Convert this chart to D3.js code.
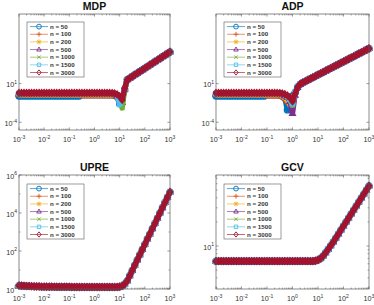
<!DOCTYPE html>
<html><head><meta charset="utf-8">
<script src="https://cdn.jsdelivr.net/npm/d3@7/dist/d3.min.js"></script>
<style>body{margin:0;background:#fff}svg{display:block}</style>
</head><body><svg id="c" width="374" height="305"></svg>
<script>
// ---- data (values are log10 of the plotted quantity) ----
const lambdaExp = [-3.0,-2.9,-2.8,-2.7,-2.6,-2.5,-2.4,-2.3,-2.2,-2.1,-2.0,-1.9,-1.8,-1.7,-1.6,-1.5,-1.4,-1.3,-1.2,-1.1,-1.0,-0.9,-0.8,-0.7,-0.6,-0.5,-0.4,-0.3,-0.2,-0.1,0.0,0.1,0.2,0.3,0.4,0.5,0.6,0.7,0.8,0.9,1.0,1.1,1.2,1.3,1.4,1.5,1.6,1.7,1.8,1.9,2.0,2.1,2.2,2.3,2.4,2.5,2.6,2.7,2.8,2.9,3.0];
const seriesNames = ["n = 50","n = 100","n = 200","n = 500","n = 1000","n = 1500","n = 3000"];
const seriesColors = ["#0072BD","#D95319","#EDB120","#7E2F8E","#77AC30","#4DBEEE","#A2142F"];
const seriesMarkers = ["circle","plus","star","triangle","cross","square","diamond"];
const panelTitles = ["MDP","ADP","UPRE","GCV"];
const xTickValues = [1e-3,1e-2,1e-1,1e0,1e1,1e2,1e3];
const mdpYTicks = [1e-4,1e1];
const adpYTicks = [1e-4,1e1];
const upreYTicks = [1e0,1e2,1e4,1e6];
const gcvYTicks = [1e1];

// MDP: t = -3.0 .. 1.2
const mdp_n50 = [-0.6,-0.6,-0.6,-0.6,-0.6,-0.6,-0.6,-0.6,-0.6,-0.6,
 -0.6,-0.6,-0.6,-0.6,-0.6,-0.6,-0.6,-0.6,-0.6,-0.6,
 -0.6,-0.6,-0.6,-0.6,-0.6,-0.45,-0.45,-0.45,-0.45,-0.45,
 -0.45,-0.45,-0.45,-0.45,-0.45,-0.45,-0.45,-0.45,-0.5,-0.7,
 -1.6,-1.0,0.2];
const mdp_n100 = [-0.45,-0.45,-0.45,-0.45,-0.45,-0.45,-0.45,-0.45,-0.45,-0.45,
 -0.45,-0.45,-0.45,-0.45,-0.45,-0.45,-0.45,-0.45,-0.45,-0.45,
 -0.45,-0.45,-0.45,-0.45,-0.45,-0.55,-0.55,-0.55,-0.55,-0.55,
 -0.55,-0.55,-0.55,-0.55,-0.55,-0.55,-0.55,-0.55,-0.58,-0.75,
 -1.2,-1.25,0.2];
const mdp_n200 = [-0.4,-0.4,-0.4,-0.4,-0.4,-0.4,-0.4,-0.4,-0.4,-0.4,
 -0.4,-0.4,-0.4,-0.4,-0.4,-0.4,-0.4,-0.4,-0.4,-0.4,
 -0.4,-0.4,-0.4,-0.4,-0.4,-0.4,-0.4,-0.4,-0.4,-0.4,
 -0.4,-0.4,-0.4,-0.4,-0.4,-0.4,-0.4,-0.4,-0.45,-0.6,
 -1.1,-1.35,0.25];
const mdp_n500 = [-0.35,-0.35,-0.35,-0.35,-0.35,-0.35,-0.35,-0.35,-0.35,-0.35,
 -0.35,-0.35,-0.35,-0.35,-0.35,-0.35,-0.35,-0.35,-0.35,-0.35,
 -0.35,-0.35,-0.35,-0.35,-0.35,-0.35,-0.35,-0.35,-0.35,-0.35,
 -0.35,-0.35,-0.35,-0.35,-0.35,-0.35,-0.35,-0.35,-0.4,-0.55,
 -1.0,-1.45,0.3];
const mdp_n1000 = [-0.3,-0.3,-0.3,-0.3,-0.3,-0.3,-0.3,-0.3,-0.3,-0.3,
 -0.3,-0.3,-0.3,-0.3,-0.3,-0.3,-0.3,-0.3,-0.3,-0.3,
 -0.3,-0.3,-0.3,-0.3,-0.3,-0.3,-0.3,-0.3,-0.3,-0.3,
 -0.3,-0.3,-0.3,-0.3,-0.3,-0.3,-0.3,-0.3,-0.35,-0.5,
 -0.9,-2.15,0.3];
const mdp_n1500 = [-0.28,-0.28,-0.28,-0.28,-0.28,-0.28,-0.28,-0.28,-0.28,-0.28,
 -0.28,-0.28,-0.28,-0.28,-0.28,-0.28,-0.28,-0.28,-0.28,-0.28,
 -0.28,-0.28,-0.28,-0.28,-0.28,-0.28,-0.28,-0.28,-0.28,-0.28,
 -0.28,-0.28,-0.28,-0.28,-0.28,-0.28,-0.28,-0.28,-0.33,-0.5,
 -1.65,-0.9,0.35];
const mdp_n3000 = [-0.2,-0.2,-0.2,-0.2,-0.2,-0.2,-0.2,-0.2,-0.2,-0.2,
 -0.2,-0.2,-0.2,-0.2,-0.2,-0.2,-0.2,-0.2,-0.2,-0.2,
 -0.2,-0.2,-0.2,-0.2,-0.2,-0.2,-0.2,-0.2,-0.2,-0.2,
 -0.2,-0.2,-0.2,-0.2,-0.2,-0.2,-0.2,-0.22,-0.28,-0.4,
 -0.65,-1.1,0.4];
// MDP: t = 1.3 .. 3.0 (all n overlap)
const mdpRise = [1.5,1.71,1.92,2.14,2.35,2.56,2.77,2.98,3.2,3.41,3.62,3.83,4.04,4.26,4.47,4.68,4.89,5.1];

// ADP: t = -3.0 .. 0.3
const adp_n50 = [-0.6,-0.6,-0.6,-0.6,-0.6,-0.6,-0.6,-0.6,-0.6,-0.6,
 -0.6,-0.6,-0.6,-0.6,-0.6,-0.6,-0.6,-0.6,-0.6,-0.6,
 -0.45,-0.45,-0.45,-0.45,-0.45,-0.5,-0.65,-0.9,-2.4,-1.2,
 -0.6,-0.2,0.5,0.9];
const adp_n100 = [-0.45,-0.45,-0.45,-0.45,-0.45,-0.45,-0.45,-0.45,-0.45,-0.45,
 -0.45,-0.45,-0.45,-0.45,-0.45,-0.45,-0.45,-0.45,-0.45,-0.45,
 -0.58,-0.58,-0.58,-0.58,-0.58,-0.58,-0.75,-1.0,-1.4,-1.6,
 -0.9,-0.25,0.5,0.9];
const adp_n200 = [-0.4,-0.4,-0.4,-0.4,-0.4,-0.4,-0.4,-0.4,-0.4,-0.4,
 -0.4,-0.4,-0.4,-0.4,-0.4,-0.4,-0.4,-0.4,-0.4,-0.4,
 -0.4,-0.4,-0.4,-0.4,-0.4,-0.45,-0.6,-0.8,-1.1,-1.7,
 -1.0,-0.3,0.5,0.9];
const adp_n500 = [-0.35,-0.35,-0.35,-0.35,-0.35,-0.35,-0.35,-0.35,-0.35,-0.35,
 -0.35,-0.35,-0.35,-0.35,-0.35,-0.35,-0.35,-0.35,-0.35,-0.35,
 -0.35,-0.35,-0.35,-0.35,-0.35,-0.35,-0.45,-0.6,-0.8,-1.3,
 -2.85,-0.5,0.5,0.9];
const adp_n1000 = [-0.3,-0.3,-0.3,-0.3,-0.3,-0.3,-0.3,-0.3,-0.3,-0.3,
 -0.3,-0.3,-0.3,-0.3,-0.3,-0.3,-0.3,-0.3,-0.3,-0.3,
 -0.3,-0.3,-0.3,-0.3,-0.3,-0.3,-0.38,-0.5,-0.7,-1.1,
 -1.8,-0.2,0.6,0.95];
const adp_n1500 = [-0.28,-0.28,-0.28,-0.28,-0.28,-0.28,-0.28,-0.28,-0.28,-0.28,
 -0.28,-0.28,-0.28,-0.28,-0.28,-0.28,-0.28,-0.28,-0.28,-0.28,
 -0.28,-0.28,-0.28,-0.28,-0.28,-0.28,-0.33,-0.45,-0.65,-1.0,
 -1.6,-0.1,0.65,0.97];
const adp_n3000 = [-0.2,-0.2,-0.2,-0.2,-0.2,-0.2,-0.2,-0.2,-0.2,-0.2,
 -0.2,-0.2,-0.2,-0.2,-0.2,-0.2,-0.2,-0.2,-0.2,-0.2,
 -0.2,-0.2,-0.2,-0.2,-0.2,-0.22,-0.28,-0.38,-0.55,-0.8,
 -1.3,-0.3,0.55,0.95];
// ADP: t = 0.4 .. 3.0 (all n overlap)
const adpRise = [1.12,1.29,1.46,1.63,1.8,1.97,2.14,2.31,2.48,2.65,2.82,2.99,3.16,3.33,3.5,3.67,3.84,4.01,4.18,4.35,4.52,4.69,4.86,5.03,5.2,5.37,5.54];

// UPRE and GCV: all n overlap, t = -3.0 .. 3.0
const upreAll = [0.18,0.17,0.16,0.15,0.15,0.14,0.13,0.13,0.13,0.12,
 0.12,0.12,0.12,0.12,0.11,0.11,0.11,0.11,0.11,0.11,
 0.11,0.1,0.1,0.1,0.1,0.1,0.1,0.1,0.1,0.1,
 0.1,0.1,0.1,0.1,0.1,0.1,0.1,0.1,0.1,0.1,
 0.12,0.16,0.26,0.43,0.7,0.98,1.25,1.53,1.8,2.08,
 2.35,2.63,2.9,3.18,3.45,3.73,4.0,4.28,4.55,4.83,
 5.1];
const gcvAll = [0.81,0.81,0.81,0.81,0.81,0.81,0.81,0.81,0.81,0.81,
 0.81,0.81,0.81,0.81,0.81,0.81,0.81,0.81,0.81,0.81,
 0.81,0.81,0.81,0.81,0.81,0.81,0.81,0.81,0.81,0.81,
 0.81,0.81,0.81,0.81,0.81,0.81,0.81,0.81,0.81,0.815,
 0.825,0.845,0.875,0.915,0.96,1.005,1.05,1.1,1.15,1.2,
 1.25,1.3,1.35,1.4,1.45,1.5,1.55,1.6,1.65,1.7,
 1.75];

// ---- build series tables ----
const mdpSeries = [mdp_n50,mdp_n100,mdp_n200,mdp_n500,mdp_n1000,mdp_n1500,mdp_n3000].map(h => h.concat(mdpRise));
const adpSeries = [adp_n50,adp_n100,adp_n200,adp_n500,adp_n1000,adp_n1500,adp_n3000].map(h => h.concat(adpRise));
const upreSeries = seriesNames.map(() => upreAll);
const gcvSeries = seriesNames.map(() => gcvAll);

const panels = [
  {title: panelTitles[0], x0:19, x1:170, y0:14, y1:130, yDom:[1e-5,1e10], yTicks: mdpYTicks, yMinor: [], data: mdpSeries, lg:[27,22]},
  {title: panelTitles[1], x0:216, x1:369, y0:14, y1:130, yDom:[1e-5,1e10], yTicks: adpYTicks, yMinor: [], data: adpSeries, lg:[224,22]},
  {title: panelTitles[2], x0:19, x1:170, y0:175, y1:289, yDom:[1e0,1e6], yTicks: upreYTicks, yMinor: [1e1,1e3,1e5], data: upreSeries, lg:[27,184]},
  {title: panelTitles[3], x0:216, x1:369, y0:175, y1:289, yDom:[Math.pow(10,0.4625),Math.pow(10,1.8875)], yTicks: gcvYTicks, yMinor: null, data: gcvSeries, lg:[224,184]}
];

const FONT = "'Liberation Sans', Arial, Helvetica, sans-serif";
const AX = "#5a5a5a";
const svg = d3.select("#c");

function markerPath(type, s) {
  const a = s * 0.72;
  switch (type) {
    case "circle": return `M${s},0A${s},${s} 0 1,1 ${-s},0A${s},${s} 0 1,1 ${s},0Z`;
    case "plus": return `M${-s},0H${s}M0,${-s}V${s}`;
    case "star": return `M${-s},0H${s}M0,${-s}V${s}M${-a},${-a}L${a},${a}M${-a},${a}L${a},${-a}`;
    case "triangle": return `M0,${-s*1.05}L${s*0.95},${s*0.62}L${-s*0.95},${s*0.62}Z`;
    case "cross": return `M${-a},${-a}L${a},${a}M${-a},${a}L${a},${-a}`;
    case "square": return `M${-a},${-a}H${a}V${a}H${-a}Z`;
    case "diamond": return `M0,${-s*1.1}L${s*0.9},0L0,${s*1.1}L${-s*0.9},0Z`;
  }
}

function supLabel(sel, exp) {
  sel.append("tspan").attr("font-size", 7.2).text("10");
  sel.append("tspan").attr("font-size", 5).attr("dy", -3.2).text(exp);
}

panels.forEach(p => {
  const x = d3.scaleLog().domain([1e-3, 1e3]).range([p.x0, p.x1]);
  const y = d3.scaleLog().domain(p.yDom).range([p.y1, p.y0]);
  const g = svg.append("g");

  g.append("rect").attr("x", p.x0).attr("y", p.y0).attr("width", p.x1 - p.x0).attr("height", p.y1 - p.y0)
    .attr("fill", "#fff");

  // ticks
  const xMinor = x.ticks().filter(v => !xTickValues.some(t => Math.abs(t - v) / t < 1e-9));
  const tickG = g.append("g").attr("stroke", AX).attr("stroke-width", 0.6);
  xMinor.forEach(v => {
    tickG.append("line").attr("x1", x(v)).attr("x2", x(v)).attr("y1", p.y1).attr("y2", p.y1 - 1.4);
    tickG.append("line").attr("x1", x(v)).attr("x2", x(v)).attr("y1", p.y0).attr("y2", p.y0 + 1.4);
  });
  xTickValues.forEach(v => {
    tickG.append("line").attr("x1", x(v)).attr("x2", x(v)).attr("y1", p.y1).attr("y2", p.y1 - 2.6);
    tickG.append("line").attr("x1", x(v)).attr("x2", x(v)).attr("y1", p.y0).attr("y2", p.y0 + 2.6);
  });
  let yMinor = p.yMinor;
  if (yMinor === null) yMinor = y.ticks().filter(v => !p.yTicks.includes(v) && v > p.yDom[0] && v < p.yDom[1]);
  yMinor.forEach(v => {
    tickG.append("line").attr("x1", p.x0).attr("x2", p.x0 + 1.4).attr("y1", y(v)).attr("y2", y(v));
    tickG.append("line").attr("x1", p.x1).attr("x2", p.x1 - 1.4).attr("y1", y(v)).attr("y2", y(v));
  });
  p.yTicks.forEach(v => {
    tickG.append("line").attr("x1", p.x0).attr("x2", p.x0 + 2.6).attr("y1", y(v)).attr("y2", y(v));
    tickG.append("line").attr("x1", p.x1).attr("x2", p.x1 - 2.6).attr("y1", y(v)).attr("y2", y(v));
  });

  // tick labels
  xTickValues.forEach(v => {
    const t = g.append("text").attr("x", x(v)).attr("y", p.y1 + 12).attr("text-anchor", "middle")
      .attr("font-family", FONT).attr("fill", "#333");
    supLabel(t, String(Math.round(Math.log10(v))));
  });
  p.yTicks.forEach(v => {
    const t = g.append("text").attr("x", p.x0 - 2).attr("y", y(v) + 3.5).attr("text-anchor", "end")
      .attr("font-family", FONT).attr("fill", "#333");
    supLabel(t, String(Math.round(Math.log10(v))));
  });

  // title
  g.append("text").attr("x", (p.x0 + p.x1) / 2).attr("y", p.y0 - 4.5).attr("text-anchor", "middle")
    .attr("font-family", FONT).attr("font-weight", "bold").attr("font-size", 10.5).attr("fill", "#111").text(p.title);

  // series: dense markers form a solid band
  const line = d3.line().x((d, i) => x(Math.pow(10, lambdaExp[i]))).y(d => y(Math.pow(10, d)));
  p.data.forEach((vals, k) => {
    const sg = g.append("g");
    sg.append("path").attr("d", line(vals)).attr("fill", "none").attr("stroke", seriesColors[k])
      .attr("stroke-width", 5.4).attr("stroke-linejoin", "round").attr("stroke-linecap", "round");
    sg.selectAll("path.m").data(vals).join("path").attr("class", "m")
      .attr("transform", (d, i) => `translate(${x(Math.pow(10, lambdaExp[i]))},${y(Math.pow(10, d))})`)
      .attr("d", markerPath(seriesMarkers[k], 3.0))
      .attr("fill", "none").attr("stroke", seriesColors[k]).attr("stroke-width", 1.4);
  });

  // axes box
  g.append("rect").attr("x", p.x0).attr("y", p.y0).attr("width", p.x1 - p.x0).attr("height", p.y1 - p.y0)
    .attr("fill", "none").attr("stroke", AX).attr("stroke-width", 0.7);

  // legend
  const [lx, ly] = p.lg;
  const lw = 57, lh = 55;
  const lgG = g.append("g");
  lgG.append("rect").attr("x", lx).attr("y", ly).attr("width", lw).attr("height", lh)
    .attr("fill", "#fff").attr("stroke", AX).attr("stroke-width", 0.6);
  seriesNames.forEach((name, k) => {
    const cy = ly + 4.6 + k * 7.65;
    lgG.append("line").attr("x1", lx + 3).attr("x2", lx + 21).attr("y1", cy).attr("y2", cy)
      .attr("stroke", seriesColors[k]).attr("stroke-width", 0.9).attr("stroke-opacity", 0.7);
    lgG.append("path").attr("transform", `translate(${lx + 12},${cy})`).attr("d", markerPath(seriesMarkers[k], 2.4))
      .attr("fill", "none").attr("stroke", seriesColors[k]).attr("stroke-width", 0.9);
    lgG.append("text").attr("x", lx + 23).attr("y", cy + 2.2).attr("font-family", FONT)
      .attr("font-size", 6.2).attr("font-weight", "bold").attr("fill", "#333").text(name);
  });
});
</script></body></html>
